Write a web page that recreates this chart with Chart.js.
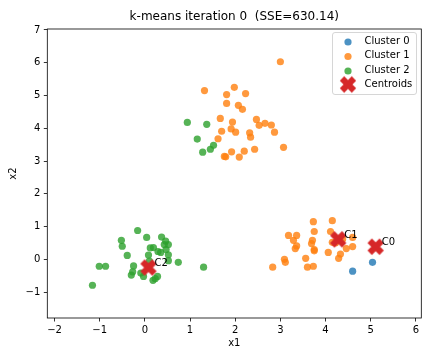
<!DOCTYPE html>
<html><head><meta charset="utf-8">
<script src="https://cdn.jsdelivr.net/npm/chart.js@4"></script>
<style>html,body{margin:0;padding:0;background:#fff}</style>
</head><body>
<canvas id="c" width="432" height="360"></canvas>
<script>
// ---- data ----
const titleText = 'k-means iteration 0  (SSE=630.14)';
const xLabel = 'x1';
const yLabel = 'x2';
const xTicks = [-2, -1, 0, 1, 2, 3, 4, 5, 6];
const yTicks = [-1, 0, 1, 2, 3, 4, 5, 6, 7];
const xRange = [-2.16, 6.12];
const yRange = [-1.79, 7.03];
const seriesNames = ['Cluster 0', 'Cluster 1', 'Cluster 2', 'Centroids'];
const centroidLabels = ['C0', 'C1', 'C2'];

const cluster0 = [[5.04,-0.09],[4.60,-0.36]];
const cluster1 = [
  [3.00,6.03],[1.32,5.15],[1.98,5.25],[1.81,5.03],[2.23,5.06],[1.81,4.76],[2.07,4.70],
  [2.16,4.58],[1.67,4.30],[1.94,4.19],[2.47,4.27],[2.53,4.09],[2.66,4.15],[2.80,4.10],
  [2.87,3.88],[1.70,3.91],[1.91,3.98],[2.01,3.88],[2.32,3.86],[2.34,3.73],[1.62,3.68],
  [3.07,3.42],[2.43,3.36],[2.20,3.30],[1.92,3.28],[1.76,3.14],[1.79,3.13],[2.09,3.12],
  [4.15,1.18],[3.73,1.15],[3.75,0.85],[4.11,0.85],[3.18,0.73],[3.36,0.73],[3.29,0.58],
  [3.71,0.58],[3.69,0.48],[4.15,0.52],[3.36,0.41],[3.33,0.33],[3.75,0.30],[3.75,0.26],
  [4.60,0.67],[4.60,0.39],[4.46,0.33],[4.06,0.21],[4.33,0.16],[4.29,0.03],[3.56,0.03],
  [3.09,0.00],[3.11,-0.09],[3.60,-0.24],[3.73,-0.21],[2.83,-0.24],[4.22,0.50],[4.38,0.62]
];
const cluster2 = [
  [0.94,4.18],[1.37,4.12],[1.16,3.67],[1.52,3.48],[1.45,3.36],[1.28,3.27],
  [-0.16,0.88],[0.04,0.67],[0.37,0.68],[-0.52,0.58],[-0.50,0.40],[0.46,0.56],[0.52,0.45],
  [0.43,0.45],[0.12,0.35],[0.19,0.36],[0.29,0.24],[0.35,0.21],[0.47,0.30],[0.52,0.14],
  [0.52,-0.04],[0.08,0.13],[-0.39,0.12],[0.74,-0.09],[1.30,-0.24],[-1.01,-0.21],[-0.87,-0.21],
  [-0.25,-0.20],[-0.27,-0.38],[-0.30,-0.48],[-0.09,-0.42],[-0.03,-0.52],[0.28,-0.52],
  [0.23,-0.59],[0.18,-0.64],[-1.16,-0.79],[0.10,-0.05]
];
const centroids = [[5.11,0.385],[4.28,0.61],[0.08,-0.25]];

// ---- styling ----
const FONT = 'DejaVu Sans';
const colors = ['rgba(31,119,180,0.8)','rgba(255,127,14,0.8)','rgba(44,160,44,0.8)','#d62728'];
const toPts = a => a.map(p => ({x: p[0], y: p[1]}));
const fmt = v => String(v).replace('-', '\u2212');

function makeX(size, color) {
  const c = document.createElement('canvas'); c.width = size; c.height = size;
  const g = c.getContext('2d');
  g.strokeStyle = color; g.lineWidth = size * 0.31; g.lineCap = 'butt';
  const m = size * 0.2;
  g.beginPath(); g.moveTo(m, m); g.lineTo(size - m, size - m);
  g.moveTo(size - m, m); g.lineTo(m, size - m); g.stroke();
  return c;
}
const xImg = makeX(20, '#d62728');

const framePlugin = {
  id: 'frame',
  afterDatasetsDraw(chart) {
    const {ctx, chartArea: a} = chart;
    ctx.save();
    // centroid labels
    const meta = chart.getDatasetMeta(3);
    ctx.fillStyle = '#000';
    ctx.font = '10px "' + FONT + '"';
    ctx.textAlign = 'left'; ctx.textBaseline = 'middle';
    meta.data.forEach((el, i) => ctx.fillText(centroidLabels[i], el.x + 6, el.y - 4));
    // frame
    ctx.strokeStyle = '#000'; ctx.lineWidth = 0.8;
    ctx.strokeRect(a.left, a.top, a.right - a.left, a.bottom - a.top);
    // legend
    const lx = 332.5, ly = 32.5, lw = 84, lh = 62;
    ctx.beginPath();
    ctx.roundRect(lx, ly, lw, lh, 2.5);
    ctx.fillStyle = 'rgba(255,255,255,0.8)'; ctx.fill();
    ctx.strokeStyle = '#cccccc'; ctx.lineWidth = 0.8; ctx.stroke();
    const rows = [41, 55.5, 70, 84.5];
    seriesNames.forEach((name, i) => {
      if (i < 3) {
        ctx.beginPath(); ctx.arc(348, rows[i] + 1, 3.6, 0, Math.PI * 2);
        ctx.fillStyle = colors[i]; ctx.fill();
      } else {
        ctx.drawImage(xImg, 348 - 10, rows[i] - 10);
      }
      ctx.fillStyle = '#000';
      ctx.fillText(name, 364.5, rows[i]);
    });
    ctx.restore();
  }
};

const tickGrid = {display: true, drawOnChartArea: false, drawTicks: true, tickLength: 3.5, color: '#000', lineWidth: 0.8};

new Chart(document.getElementById('c'), {
  type: 'scatter',
  data: {
    datasets: [
      {label: seriesNames[0], data: toPts(cluster0), backgroundColor: colors[0], pointRadius: 3.6, borderWidth: 0, order: 3},
      {label: seriesNames[1], data: toPts(cluster1), backgroundColor: colors[1], pointRadius: 3.6, borderWidth: 0, order: 2},
      {label: seriesNames[2], data: toPts(cluster2), backgroundColor: colors[2], pointRadius: 3.6, borderWidth: 0, order: 1},
      {label: seriesNames[3], data: toPts(centroids), pointStyle: xImg, pointRadius: 10, borderWidth: 0, order: 0}
    ]
  },
  options: {
    responsive: false, animation: false, events: [],
    layout: {padding: {left: 0, right: 10.7, top: 0, bottom: 0}},
    plugins: {
      legend: {display: false}, tooltip: {enabled: false},
      title: {display: true, text: titleText, color: '#000', fullSize: false,
              font: {family: FONT, size: 12, weight: 'normal'}, padding: {top: 9.6, bottom: 5}}
    },
    scales: {
      x: {
        type: 'linear', min: xRange[0], max: xRange[1],
        afterBuildTicks: s => { s.ticks = xTicks.map(v => ({value: v})); },
        afterFit: s => { s.height = 42; },
        grid: tickGrid, border: {display: false},
        ticks: {color: '#000', font: {family: FONT, size: 10}, padding: 2.5, maxRotation: 0, callback: v => fmt(v)},
        title: {display: true, text: xLabel, color: '#000', font: {family: FONT, size: 10}, padding: {top: 0, bottom: 10.7}}
      },
      y: {
        type: 'linear', min: yRange[0], max: yRange[1],
        afterBuildTicks: s => { s.ticks = yTicks.map(v => ({value: v})); },
        afterFit: s => { s.width = 47.3; },
        grid: tickGrid, border: {display: false},
        ticks: {color: '#000', font: {family: FONT, size: 10}, padding: 3.5, callback: v => fmt(v)},
        title: {display: true, text: yLabel, color: '#000', font: {family: FONT, size: 10}, padding: {top: 7.3, bottom: 0}}
      }
    }
  },
  plugins: [framePlugin]
});
</script>
</body></html>
